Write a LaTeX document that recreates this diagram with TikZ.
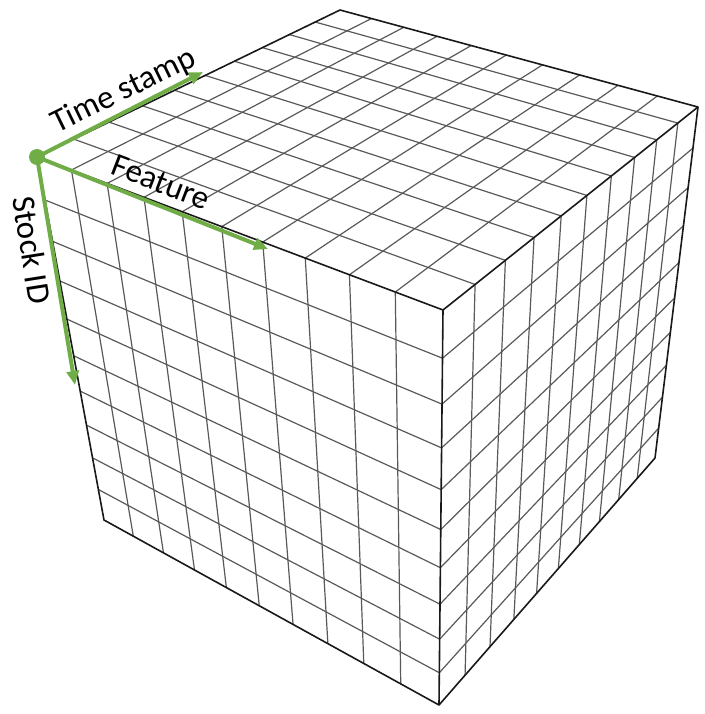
\documentclass[tikz,border=0pt]{standalone}
\usepackage{fontspec}
\setmainfont{Carlito}
\usepackage{xcolor}
\usetikzlibrary{calc,arrows.meta}
\definecolor{axisgreen}{RGB}{112,173,71}
\newcommand{\facegrid}[8]{%
  \foreach \i in {1,...,9} {
    \pgfmathsetmacro{\sa}{ps(\i/10,#5,#6)}
    \pgfmathsetmacro{\sb}{ps(\i/10,#8,#7)}
    \pgfmathsetmacro{\sc}{ps(\i/10,#5,#8)}
    \pgfmathsetmacro{\sd}{ps(\i/10,#6,#7)}
    \draw[gridline] ($(#1)!\sa!(#2)$) -- ($(#4)!\sb!(#3)$);
    \draw[gridline] ($(#1)!\sc!(#4)$) -- ($(#2)!\sd!(#3)$);
  }}
\def\wA{1}
\def\wB{1.247}
\def\wC{1.082}
\def\wD{0.835}
\def\wE{1.045}
\def\wF{1.21}
\def\wG{1.292}

\begin{document}
\begin{tikzpicture}[x=0.5pt, y=-0.5pt,
  declare function={ps(\r,\m,\n)=\r*\n/((1-\r)*\m+\r*\n);},
  gridline/.style={black!65, line width=0.6pt},
  edge/.style={black!90, line width=0.8pt, line join=round},
  axis/.style={axisgreen, line width=2pt, -{Triangle[length=7pt,width=6pt]}},
  every node/.style={font=\fontsize{16.5}{19}\selectfont}]
\useasboundingbox (0,0) rectangle (705,714);
\coordinate (A) at (37,157);
\coordinate (B) at (340,10);
\coordinate (C) at (698,107);
\coordinate (D) at (443,310);
\coordinate (E) at (439,705);
\coordinate (F) at (104,520);
\coordinate (G) at (655,458);
\facegrid{A}{D}{C}{B}{\wA}{\wD}{\wC}{\wB}
\facegrid{A}{D}{E}{F}{\wA}{\wD}{\wE}{\wF}
\facegrid{D}{C}{G}{E}{\wD}{\wC}{\wG}{\wE}
\draw[edge] (A) -- (B) -- (C) -- (D) -- cycle;
\draw[edge] (A) -- (F) -- (E) -- (G) -- (C);
\draw[edge] (D) -- (E);
\node[circle, fill=axisgreen, inner sep=0pt, minimum size=8pt] (origin) at (A) {};
\coordinate (timetip) at (203,72);
\coordinate (featuretip) at (268,249);
\coordinate (stocktip) at (75,385);
\draw[axis] (origin.center) -- (timetip);
\draw[axis] (origin.center) -- (featuretip);
\draw[axis] (origin.center) -- (stocktip);
\node[rotate=26] (timelabel) at (124,91) {Time stamp};
\node[rotate=-21] (featurelabel) at (161,182) {Feature};
\node[rotate=-81] (stocklabel) at (32,250) {Stock ID};
\end{tikzpicture}
\end{document}
